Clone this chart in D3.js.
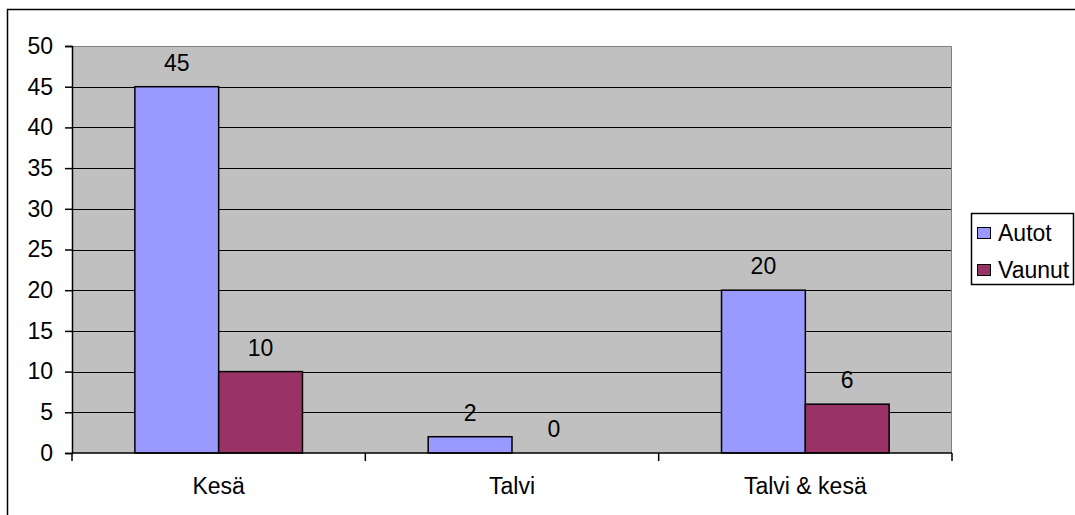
<!DOCTYPE html>
<html>
<head>
<meta charset="utf-8">
<script src="https://cdn.jsdelivr.net/npm/d3@7"></script>
<style>
  html, body { margin: 0; padding: 0; background: #fff; }
  svg { display: block; }
  text { font-family: "Liberation Sans", Arial, sans-serif; fill: #000; }
</style>
</head>
<body>
<svg id="chart" width="1075" height="515"></svg>
<script>
// Chart data
const categories = ["Kesä", "Talvi", "Talvi & kesä"];
const seriesNames = ["Autot", "Vaunut"];
const autot = [45, 2, 20];
const vaunut = [10, 0, 6];
const yTicks = [0, 5, 10, 15, 20, 25, 30, 35, 40, 45, 50];
const seriesColors = ["#9999FF", "#993366"];

const svg = d3.select("#chart");
const W = 1075, H = 515;
const plot = { left: 72, top: 46, right: 952, bottom: 453 };
const fontSize = 23;

// Outer chart border (runs off the right and bottom edges)
svg.append("rect")
  .attr("x", 7.5).attr("y", 9.5)
  .attr("width", W).attr("height", H)
  .attr("fill", "none").attr("stroke", "#000").attr("stroke-width", 1.5);

const x0 = d3.scaleBand().domain(categories).range([plot.left, plot.right]).paddingInner(0).paddingOuter(0);
// Excel-style gap width of 150%: each bar is band / 3.5
const barW = x0.bandwidth() / 3.5;
const x1 = d3.scaleBand().domain(seriesNames).range([0, barW * 2]);
const y = d3.scaleLinear().domain([0, 50]).range([plot.bottom, plot.top]);

// Plot background
svg.append("rect")
  .attr("x", plot.left).attr("y", plot.top)
  .attr("width", plot.right - plot.left).attr("height", plot.bottom - plot.top)
  .attr("fill", "#C0C0C0");

// Horizontal gridlines
svg.append("g").selectAll("line")
  .data(yTicks.filter(v => v > 0 && v < 50))
  .join("line")
  .attr("x1", plot.left).attr("x2", plot.right)
  .attr("y1", d => Math.round(y(d)) + 0.5).attr("y2", d => Math.round(y(d)) + 0.5)
  .attr("stroke", "#000").attr("stroke-width", 1);

// Plot area border on top and right
svg.append("path")
  .attr("d", `M${plot.left},${plot.top + 0.5}H${plot.right - 0.5}V${plot.bottom}`)
  .attr("fill", "none").attr("stroke", "#808080").attr("stroke-width", 1);

// Bars
const rows = categories.map((c, i) => ({ cat: c, values: [autot[i], vaunut[i]] }));
const groups = svg.append("g").selectAll("g")
  .data(rows)
  .join("g")
  .attr("transform", d => `translate(${x0(d.cat) + (x0.bandwidth() - barW * 2) / 2},0)`);

groups.selectAll("rect")
  .data(d => d.values.map((v, j) => ({ name: seriesNames[j], value: v, j })))
  .join("rect")
  .filter(d => d.value > 0)
  .attr("x", d => x1(d.name))
  .attr("y", d => y(d.value))
  .attr("width", barW)
  .attr("height", d => y(0) - y(d.value))
  .attr("fill", d => seriesColors[d.j])
  .attr("stroke", "#000").attr("stroke-width", 1.5);

// Value labels above bars
groups.selectAll("text")
  .data(d => d.values.map((v, j) => ({ name: seriesNames[j], value: v })))
  .join("text")
  .attr("x", d => x1(d.name) + barW / 2)
  .attr("y", d => y(d.value) - 16)
  .attr("text-anchor", "middle")
  .attr("font-size", fontSize)
  .text(d => d.value);

// Y axis
const yAxis = svg.append("g")
  .attr("transform", `translate(${plot.left},0)`)
  .call(d3.axisLeft(y).tickValues(yTicks).tickSize(7).tickPadding(12).tickFormat(d3.format("d")));
yAxis.selectAll("path, line").attr("stroke", "#000").attr("stroke-width", 1.5);
yAxis.selectAll("text").attr("font-size", fontSize).attr("font-family", "Liberation Sans, Arial, sans-serif");

// X axis with ticks at category boundaries
const xAxisG = svg.append("g");
xAxisG.append("line")
  .attr("x1", plot.left).attr("x2", plot.right)
  .attr("y1", plot.bottom).attr("y2", plot.bottom)
  .attr("stroke", "#000").attr("stroke-width", 1.5);
const boundaries = categories.map(c => x0(c)).concat([x0.range()[1]]);
xAxisG.selectAll("line.tick")
  .data(boundaries)
  .join("line")
  .attr("class", "tick")
  .attr("x1", d => d).attr("x2", d => d)
  .attr("y1", plot.bottom).attr("y2", plot.bottom + 8)
  .attr("stroke", "#000").attr("stroke-width", 1.5);
xAxisG.selectAll("text")
  .data(categories)
  .join("text")
  .attr("x", d => x0(d) + x0.bandwidth() / 2)
  .attr("y", 494)
  .attr("text-anchor", "middle")
  .attr("font-size", fontSize)
  .text(d => d);

// Legend
const legend = svg.append("g");
legend.append("rect")
  .attr("x", 971.5).attr("y", 213.5)
  .attr("width", 102).attr("height", 71)
  .attr("fill", "#fff").attr("stroke", "#000").attr("stroke-width", 1.5);
const items = legend.selectAll("g")
  .data(seriesNames)
  .join("g")
  .attr("transform", (d, i) => `translate(0,${i * 37})`);
items.append("rect")
  .attr("x", 977.5).attr("y", 227.5)
  .attr("width", 13).attr("height", 11)
  .attr("fill", (d, i) => seriesColors[i])
  .attr("stroke", "#000").attr("stroke-width", 1);
items.append("text")
  .attr("x", 998).attr("y", 241)
  .attr("font-size", fontSize)
  .text(d => d);
</script>
</body>
</html>
